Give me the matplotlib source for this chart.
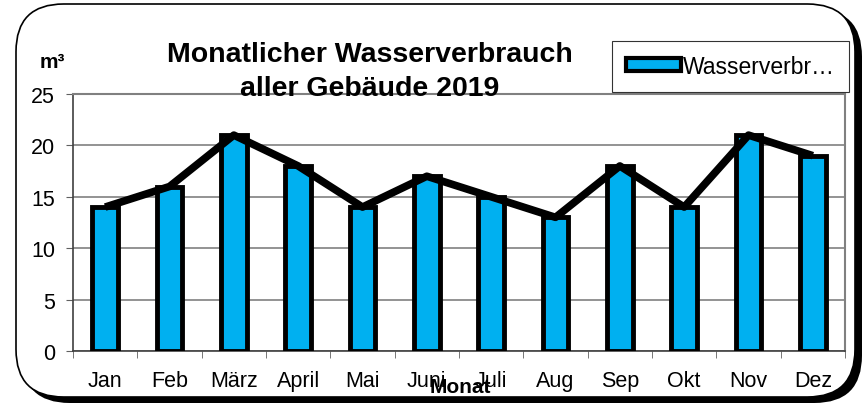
import matplotlib
matplotlib.use('Agg')
import matplotlib.pyplot as plt
from matplotlib.patches import FancyBboxPatch, Patch
import numpy as np

plt.rcParams['font.family'] = ['Liberation Sans', 'DejaVu Sans']

# --- data ---
months = ['Jan', 'Feb', 'März', 'April', 'Mai', 'Juni', 'Juli', 'Aug', 'Sep', 'Okt', 'Nov', 'Dez']
verbrauch = [14, 16, 21, 18, 14, 17, 15, 13, 18, 14, 21, 19]
yticks = [0, 5, 10, 15, 20, 25]
blue = '#00b0f0'

W, H = 866, 406
fig = plt.figure(figsize=(W / 100, H / 100), dpi=100)

def fx(px): return px / W
def fy(py): return 1 - py / H

# rounded frame with shadow (behind the axes)
shadow = FancyBboxPatch((fx(22), fy(404)), fx(840), fy(10) - fy(404),
                        boxstyle='round,pad=0,rounding_size=0.055', transform=fig.transFigure,
                        facecolor='black', edgecolor='black', lw=0, mutation_aspect=W / H, zorder=-10)
fig.patches.append(shadow)
frame = FancyBboxPatch((fx(16), fy(398)), fx(839), fy(5) - fy(398),
                       boxstyle='round,pad=0,rounding_size=0.055', transform=fig.transFigure,
                       facecolor='white', edgecolor='black', lw=1.2, mutation_aspect=W / H, zorder=-9)
fig.patches.append(frame)

ax = fig.add_axes([fx(73), fy(352), fx(845) - fx(73), fy(95) - fy(352)])
ax.patch.set_alpha(0)
x = np.arange(len(months))
ax.bar(x, verbrauch, width=0.4, color=blue, edgecolor='black', linewidth=3.5, zorder=3)
ax.plot(x, verbrauch, color='black', linewidth=5.5, zorder=4, solid_capstyle='butt')

ax.set_xlim(-0.5, len(months) - 0.5)
ax.set_ylim(0, 25)
ax.set_yticks(yticks)
ax.yaxis.grid(True, color='#808080', linewidth=1.2, zorder=0)
ax.set_axisbelow(True)
ax.set_xticks(x)
ax.set_xticklabels(months, fontsize=15.5)
ax.set_xticks(np.arange(-0.5, len(months), 1), minor=True)
ax.tick_params(axis='x', which='major', length=0, pad=14)
ax.tick_params(axis='x', which='minor', length=5, color='#606060', direction='out')
ax.tick_params(axis='y', labelsize=15.5, length=5, direction='out', color='#606060', pad=8)
for s in ['top', 'right']:
    ax.spines[s].set_color('#808080')
    ax.spines[s].set_linewidth(1.5)
ax.spines['left'].set_color('#404040')
ax.spines['bottom'].set_color('#404040')
ax.spines['left'].set_linewidth(1.2)
ax.spines['bottom'].set_linewidth(1.2)

fig.text(fx(370), fy(72), 'Monatlicher Wasserverbrauch\naller Gebäude 2019', ha='center', va='center',
         fontsize=20.5, fontweight='bold', linespacing=1.4)
fig.text(fx(52), fy(62), 'm³', ha='center', va='center', fontsize=15, fontweight='bold')
fig.text(fx(460), fy(388), 'Monat', ha='center', va='center', fontsize=15, fontweight='bold')

leg = fig.legend([Patch(facecolor=blue, edgecolor='black', linewidth=3)], ['Wasserverbr…'],
                 loc='upper left', bbox_to_anchor=(fx(612), fy(42)), bbox_transform=fig.transFigure,
                 fontsize=16.5, frameon=True, fancybox=False, handlelength=2.4, handleheight=0.45,
                 handletextpad=0.1, borderpad=0.6, borderaxespad=0)
leg.get_frame().set_edgecolor('black')
leg.get_frame().set_linewidth(0.8)

fig.savefig('out.png', dpi=100)
